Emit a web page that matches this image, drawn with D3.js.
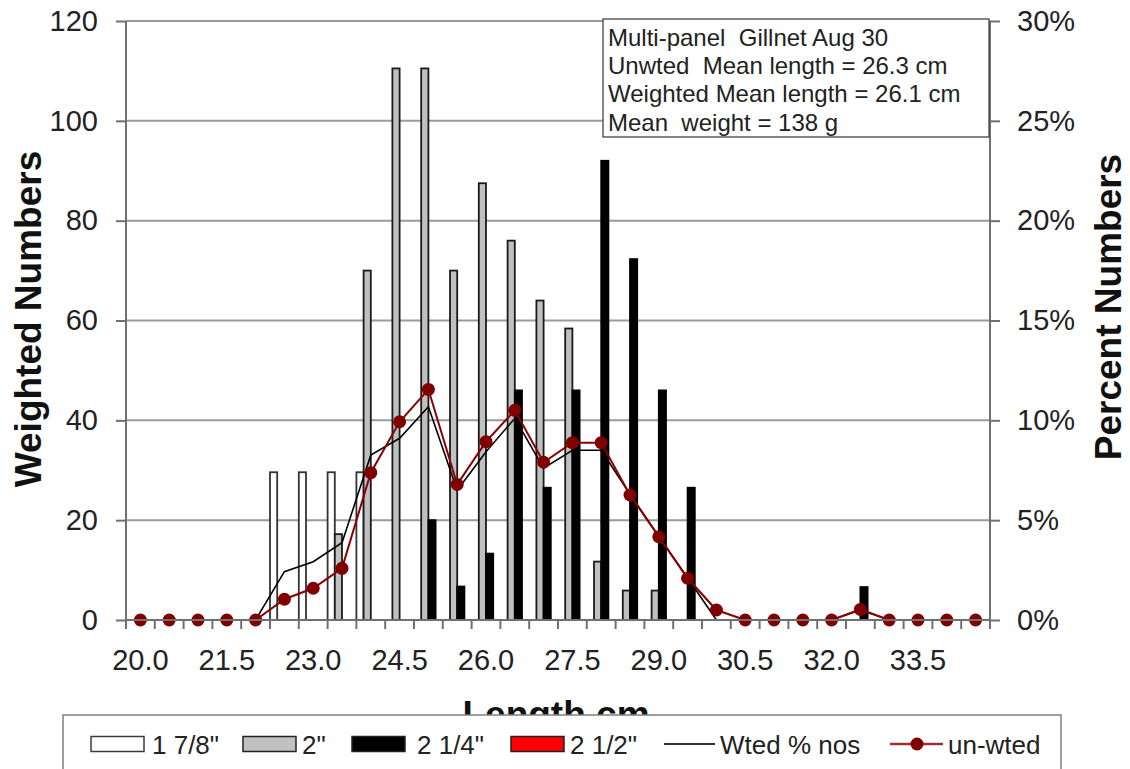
<!DOCTYPE html>
<html>
<head>
<meta charset="utf-8">
<script src="https://cdn.jsdelivr.net/npm/d3@7"></script>
<style>
  html, body { margin: 0; padding: 0; background: #fff; }
  svg { display: block; font-family: "Liberation Sans", Arial, sans-serif; }
</style>
</head>
<body>
<svg id="chart" width="1130" height="769"></svg>
<script>
// ---------- DATA ----------
const lengths = ["20.0","20.5","21.0","21.5","22.0","22.5","23.0","23.5","24.0","24.5",
                 "25.0","25.5","26.0","26.5","27.0","27.5","28.0","28.5","29.0","29.5",
                 "30.0","30.5","31.0","31.5","32.0","32.5","33.0","33.5","34.0","34.5"];
const xTickLabels = ["20.0","21.5","23.0","24.5","26.0","27.5","29.0","30.5","32.0","33.5"];
const seriesNames = ["1 7/8\"", "2\"", "2 1/4\"", "2 1/2\""];
const mesh178 = [0,0,0,0,0,29.6,29.6,29.6,29.6,0, 0,0,0,0,0,0,0,0,0,0, 0,0,0,0,0,0,0,0,0,0];
const mesh200 = [0,0,0,0,0,0,0,17.2,70,110.5, 110.5,70,87.5,76,64,58.4,11.7,5.9,5.9,0, 0,0,0,0,0,0,0,0,0,0];
const mesh214 = [0,0,0,0,0,0,0,0,0,0, 20,6.7,13.3,46,26.5,46,92,72.3,46,26.5, 0,0,0,0,0,6.6,0,0,0,0];
const mesh212 = [0,0,0,0,0,0,0,0,0,0, 0,0,0,0,0,0,0,0,0,0, 0,0,0,0,0,0,0,0,0,0];
const wtedPct   = [0,0,0,0,0,2.42,2.92,3.87,8.26,9.1, 10.68,6.5,8.43,10.1,7.6,8.5,8.5,6.3,4.2,2.1, 0,0,0,0,0,0.5,0,0,0,0];
const unwtedPct = [0,0,0,0,0,1.04,1.59,2.59,7.38,9.93, 11.55,6.79,8.93,10.5,7.9,8.88,8.88,6.26,4.17,2.09, 0.5,0,0,0,0,0.53,0,0,0,0];
const leftTicks = [0,20,40,60,80,100,120];
const rightTicks = [0,0.05,0.10,0.15,0.20,0.25,0.30];
const infoLines = ["Multi-panel  Gillnet Aug 30",
                   "Unwted  Mean length = 26.3 cm",
                   "Weighted Mean length = 26.1 cm",
                   "Mean  weight = 138 g"];
const legendLabels = ["1 7/8\"", "2\"", "2 1/4\"", "2 1/2\"", "Wted % nos", "un-wted"];

// ---------- LAYOUT ----------
const L = 126, R = 990, T = 21, B = 620;
const svg = d3.select("#chart");

const x = d3.scaleBand().domain(lengths).range([L, R]).padding(0);
const sub = d3.scaleBand().domain(seriesNames).range([0, x.bandwidth()]).padding(0);
const yL = d3.scaleLinear().domain([0, 120]).range([B, T]);
const yR = d3.scaleLinear().domain([0, 0.30]).range([B, T]);

const barFill = ["#ffffff", "#c0c0c0", "#000000", "#ff0000"];
const barStroke = ["#333333", "#1a1a1a", "#000000", "#000000"];
const seriesData = [mesh178, mesh200, mesh214, mesh212];

// gridlines
svg.append("g").selectAll("line").data(leftTicks.filter(d => d > 0)).join("line")
  .attr("x1", L).attr("x2", R)
  .attr("y1", d => yL(d)).attr("y2", d => yL(d))
  .attr("stroke", "#9a9a9a").attr("stroke-width", 2);

// bars
seriesData.forEach((vals, si) => {
  svg.append("g").selectAll("rect")
    .data(vals.map((v, i) => ({ cat: lengths[i], v })).filter(d => d.v > 0))
    .join("rect")
    .attr("x", d => x(d.cat) + sub(seriesNames[si]))
    .attr("width", sub.bandwidth())
    .attr("y", d => yL(d.v))
    .attr("height", d => yL(0) - yL(d.v))
    .attr("fill", barFill[si])
    .attr("stroke", barStroke[si])
    .attr("stroke-width", 1.8);
});

// lines
const cx = c => x(c) + x.bandwidth() / 2;
const lineW = d3.line().x((d, i) => cx(lengths[i])).y(d => yR(d / 100));
svg.append("path").datum(wtedPct).attr("d", lineW)
  .attr("fill", "none").attr("stroke", "#000").attr("stroke-width", 1.6);
svg.append("path").datum(unwtedPct).attr("d", lineW)
  .attr("fill", "none").attr("stroke", "#8b0000").attr("stroke-width", 2);
svg.append("g").selectAll("circle").data(unwtedPct).join("circle")
  .attr("cx", (d, i) => cx(lengths[i])).attr("cy", d => yR(d / 100))
  .attr("r", 6.5).attr("fill", "#800000");

// axes
const axisColor = "#707070";
const gL = svg.append("g").attr("transform", `translate(${L},0)`)
  .call(d3.axisLeft(yL).tickValues(leftTicks).tickSize(10).tickPadding(18));
const gR = svg.append("g").attr("transform", `translate(${R},0)`)
  .call(d3.axisRight(yR).tickValues(rightTicks).tickSize(10).tickPadding(17).tickFormat(d3.format(".0%")));
const gB = svg.append("g").attr("transform", `translate(0,${B})`)
  .call(d3.axisBottom(x).tickValues(xTickLabels).tickSize(0).tickPadding(29));
// boundary ticks for bottom axis
svg.append("g").selectAll("line").data(lengths.concat(["end"])).join("line")
  .attr("x1", (d, i) => L + i * x.bandwidth()).attr("x2", (d, i) => L + i * x.bandwidth())
  .attr("y1", B).attr("y2", B + 9).attr("stroke", axisColor).attr("stroke-width", 2);

[gL, gR, gB].forEach(g => {
  g.selectAll(".domain").attr("stroke", axisColor).attr("stroke-width", 2);
  g.selectAll(".tick line").attr("stroke", axisColor).attr("stroke-width", 2);
  g.selectAll("text").attr("font-size", 29).attr("fill", "#222")
    .attr("font-family", "'Liberation Sans', Arial, sans-serif");
});
gB.select(".domain").attr("d", `M${L},0H${R}`);
gL.select(".domain").attr("d", `M0,${B}V${T}`);
gR.select(".domain").attr("d", `M0,${B}V${T}`);

// axis titles
svg.append("text").attr("transform", "translate(41,319) rotate(-90)")
  .attr("text-anchor", "middle").attr("font-size", 37).attr("font-weight", "bold")
  .attr("fill", "#111").text("Weighted Numbers");
svg.append("text").attr("transform", "translate(1121,307) rotate(-90)")
  .attr("text-anchor", "middle").attr("font-size", 37).attr("font-weight", "bold")
  .attr("fill", "#111").text("Percent Numbers");
svg.append("text").attr("x", 556).attr("y", 727)
  .attr("text-anchor", "middle").attr("font-size", 37).attr("font-weight", "bold")
  .attr("fill", "#111").text("Length cm");

// info box
svg.append("rect").attr("x", 603).attr("y", 19).attr("width", 386).attr("height", 118)
  .attr("fill", "#fff").attr("stroke", "#444").attr("stroke-width", 1.3);
svg.append("g").selectAll("text").data(infoLines).join("text")
  .attr("x", 608).attr("y", (d, i) => 46 + i * 28.2)
  .attr("font-size", 24).attr("fill", "#222")
  .style("white-space", "pre").attr("xml:space", "preserve")
  .text(d => d);

// legend
svg.append("rect").attr("x", 63).attr("y", 715).attr("width", 998).attr("height", 80)
  .attr("fill", "#fff").attr("stroke", "#808080").attr("stroke-width", 1.5);
const legendSwatchX = [91, 243, 352, 511, 664, 890];
const legendTextX = [152, 302, 417, 570, 720, 948];
const ly = 744;
for (let i = 0; i < 4; i++) {
  svg.append("rect").attr("x", legendSwatchX[i]).attr("y", ly - 7.5)
    .attr("width", 53).attr("height", 15)
    .attr("fill", barFill[i]).attr("stroke", i === 0 ? "#3a3a3a" : "#222").attr("stroke-width", 1.5);
}
svg.append("line").attr("x1", legendSwatchX[4]).attr("x2", legendSwatchX[4] + 51)
  .attr("y1", ly).attr("y2", ly).attr("stroke", "#333").attr("stroke-width", 2.2);
svg.append("line").attr("x1", legendSwatchX[5]).attr("x2", legendSwatchX[5] + 53)
  .attr("y1", ly).attr("y2", ly).attr("stroke", "#993333").attr("stroke-width", 2.5);
svg.append("circle").attr("cx", legendSwatchX[5] + 27).attr("cy", ly).attr("r", 6.5).attr("fill", "#800000");
svg.append("g").selectAll("text").data(legendLabels).join("text")
  .attr("x", (d, i) => legendTextX[i]).attr("y", ly + 9.5)
  .attr("font-size", 26).attr("fill", "#222").text(d => d);
</script>
</body>
</html>
